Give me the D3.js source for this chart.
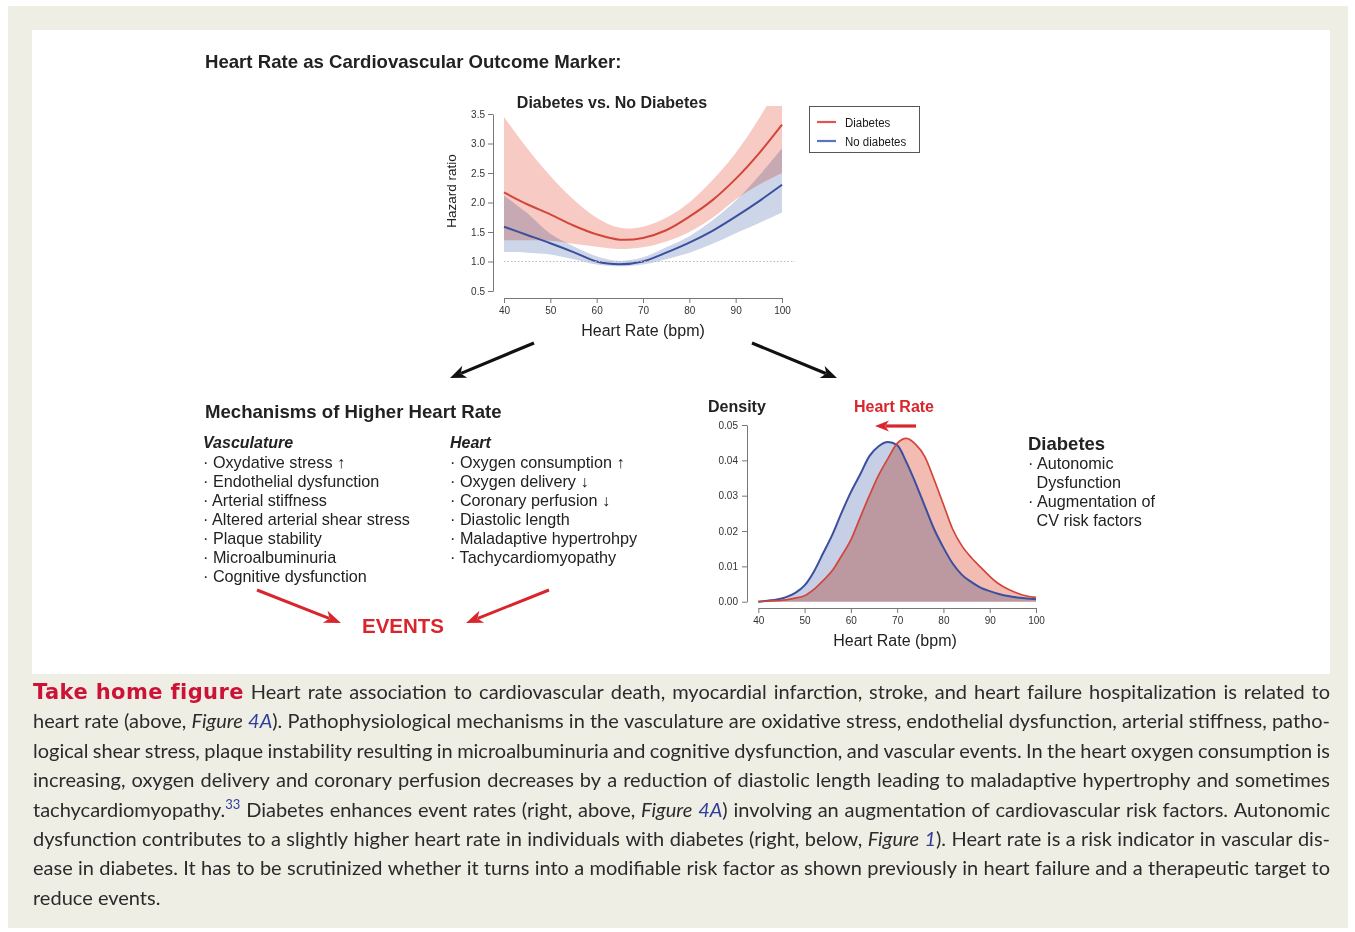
<!DOCTYPE html>
<html><head><meta charset="utf-8">
<script src="https://cdn.jsdelivr.net/npm/d3@7"></script>
<style>body{margin:0;background:#fff}svg{display:block}</style>
</head><body>
<svg id="c" width="1355" height="932"></svg>
<script>
// ---------- DATA ----------
const hrGrid      = [40,45,50,55,60,65,70,75,80,85,90,95,100];
const hrDiab      = [2.17,1.97,1.80,1.61,1.46,1.37,1.40,1.53,1.76,2.04,2.40,2.83,3.32];
const hrDiabLo    = [1.36,1.36,1.35,1.30,1.25,1.21,1.24,1.34,1.50,1.74,2.05,2.30,2.50];
const hrDiabHi    = [3.45,2.92,2.45,2.05,1.74,1.57,1.59,1.74,2.00,2.38,2.84,3.42,4.10];
const hrNoDiab    = [1.59,1.45,1.31,1.16,1.00,0.955,1.00,1.15,1.32,1.52,1.76,2.02,2.30];
const hrNoDiabLo  = [1.16,1.15,1.12,1.04,0.95,0.92,0.95,1.04,1.15,1.30,1.48,1.65,1.83];
const hrNoDiabHi  = [2.12,1.82,1.47,1.26,1.09,1.01,1.07,1.24,1.43,1.70,2.03,2.45,2.92];
const hazardTicks = [0.5,1.0,1.5,2.0,2.5,3.0,3.5];
const hrTicks     = [40,50,60,70,80,90,100];
const legendLabels = ["Diabetes","No diabetes"];

const densGrid    = [40,42,44,46,48,50,52,54,56,58,60,62,64,66,68,70,72,74,76,78,80,82,84,86,88,90,92,94,96,98,100];
const densNoDiab  = [0.0000,0.0003,0.0006,0.0013,0.0025,0.0046,0.0085,0.0137,0.0190,0.0252,0.0310,0.0360,0.0412,0.0440,0.0452,0.0443,0.0395,0.0335,0.0270,0.0205,0.0153,0.0108,0.0076,0.0056,0.0040,0.0030,0.0022,0.0016,0.0012,0.0009,0.0007];
const densDiab    = [0.0000,0.0002,0.0003,0.0005,0.0010,0.0017,0.0035,0.0060,0.0088,0.0130,0.0175,0.0238,0.0300,0.0358,0.0405,0.0448,0.0462,0.0445,0.0410,0.0345,0.0275,0.0205,0.0158,0.0125,0.0098,0.0072,0.0050,0.0035,0.0024,0.0016,0.0012];
const densTicks   = [0.00,0.01,0.02,0.03,0.04,0.05];

const vascItems  = ["Oxydative stress \u2191","Endothelial dysfunction","Arterial stiffness","Altered arterial shear stress","Plaque stability","Microalbuminuria","Cognitive dysfunction"];
const heartItems = ["Oxygen consumption \u2191","Oxygen delivery \u2193","Coronary perfusion \u2193","Diastolic length","Maladaptive hypertrohpy","Tachycardiomyopathy"];
const diabItems  = [["\u00b7 ","Autonomic"],["","Dysfunction"],["\u00b7 ","Augmentation of"],["","CV risk factors"]];

const captionLines = [
  [["Take\u00a0home\u00a0figure","lead"],[" Heart rate association to cardiovascular death, myocardial infarction, stroke, and heart failure hospitalization is related to","n"]],
  [["heart rate (above, ","n"],["Figure","i"],[" ","n"],["4A","ib"],["). Pathophysiological mechanisms in the vasculature are oxidative stress, endothelial dysfunction, arterial stiffness, patho-","n"]],
  [["logical shear stress, plaque instability resulting in microalbuminuria and cognitive dysfunction, and vascular events. In the heart oxygen consumption is","n"]],
  [["increasing, oxygen delivery and coronary perfusion decreases by a reduction of diastolic length leading to maladaptive hypertrophy and sometimes","n"]],
  [["tachycardiomyopathy.","n"],["33","sup"],[" Diabetes enhances event rates (right, above, ","n"],["Figure","i"],[" ","n"],["4A","ib"],[") involving an augmentation of cardiovascular risk factors. Autonomic","n"]],
  [["dysfunction contributes to a slightly higher heart rate in individuals with diabetes (right, below, ","n"],["Figure","i"],[" ","n"],["1","ib"],["). Heart rate is a risk indicator in vascular dis-","n"]],
  [["ease in diabetes. It has to be scrutinized whether it turns into a modifiable risk factor as shown previously in heart failure and a therapeutic target to","n"]],
  [["reduce events.","n"]]
];

// ---------- SETUP ----------
const FF = "'Liberation Sans', Arial, Helvetica, sans-serif";
const RED = "#d2463a", BLUE = "#3b4f9e";
const svg = d3.select("#c");
svg.append("rect").attr("width",1355).attr("height",932).attr("fill","#fff");
svg.append("rect").attr("x",8).attr("y",6).attr("width",1340).attr("height",922).attr("fill","#efeee5");
svg.append("rect").attr("x",32).attr("y",30).attr("width",1298).attr("height",644).attr("fill","#fff");

function txt(x,y,s,o={}){
  const t = svg.append("text").attr("x",x).attr("y",y).text(s)
    .attr("font-family",o.ff||FF).attr("font-size",o.fs||14)
    .attr("font-weight",o.fw||400).attr("fill",o.fill||"#222");
  if(o.anchor) t.attr("text-anchor",o.anchor);
  if(o.fst) t.attr("font-style",o.fst);
  if(o.ls) t.attr("letter-spacing",o.ls);
  return t;
}
function arrow(x1,y1,x2,y2,color,w,hl,hw){
  const a = Math.atan2(y2-y1,x2-x1);
  const bx = x2 - Math.cos(a)*hl*0.75, by = y2 - Math.sin(a)*hl*0.75;
  svg.append("line").attr("x1",x1).attr("y1",y1).attr("x2",bx).attr("y2",by)
    .attr("stroke",color).attr("stroke-width",w);
  const c=Math.cos(a), s=Math.sin(a);
  const p = (dx,dy)=>[x2+dx*c-dy*s, y2+dx*s+dy*c];
  const pts=[p(0,0),p(-hl,-hw/2),p(-hl*0.72,0),p(-hl,hw/2)];
  svg.append("path").attr("d","M"+pts.map(q=>q.join(",")).join("L")+"Z").attr("fill",color);
}

// ---------- TITLE ----------
txt(205,68,"Heart Rate as Cardiovascular Outcome Marker:",{fs:18.6,fw:700});

// ---------- TOP CHART ----------
const x1 = d3.scaleLinear().domain([40,100]).range([504,782]);
const y1 = d3.scaleLinear().domain([0.5,3.5]).range([291,114]);
svg.append("clipPath").attr("id","clipTop").append("rect").attr("x",500).attr("y",106).attr("width",290).attr("height",200);
const gTop = svg.append("g").attr("clip-path","url(#clipTop)").style("isolation","isolate");

svg.append("line").attr("x1",x1(40)).attr("x2",x1(100)+13).attr("y1",y1(1)).attr("y2",y1(1))
  .attr("stroke","#bbb").attr("stroke-width",1).attr("stroke-dasharray","1.5,2");

const curve = d3.curveCatmullRom.alpha(0.5);
const bandArea = (lo,hi)=>d3.area().x((d,i)=>x1(hrGrid[i])).y0((d,i)=>y1(lo[i])).y1((d,i)=>y1(hi[i])).curve(curve);
gTop.append("path").datum(hrGrid).attr("d",bandArea(hrNoDiabLo,hrNoDiabHi)).attr("fill","#cdd5e9").style("mix-blend-mode","multiply");
gTop.append("path").datum(hrGrid).attr("d",bandArea(hrDiabLo,hrDiabHi)).attr("fill","#f7cbc3").style("mix-blend-mode","multiply");
const lineFn = v=>d3.line().x((d,i)=>x1(hrGrid[i])).y((d,i)=>y1(v[i])).curve(curve);
gTop.append("path").datum(hrGrid).attr("d",lineFn(hrNoDiab)).attr("fill","none").attr("stroke",BLUE).attr("stroke-width",2);
gTop.append("path").datum(hrGrid).attr("d",lineFn(hrDiab)).attr("fill","none").attr("stroke",RED).attr("stroke-width",2);

function styleAxis(g,fs){
  g.selectAll("path,line").attr("stroke","#777");
  g.selectAll("text").attr("font-family",FF).attr("font-size",fs).attr("fill","#333");
}
const ax1 = svg.append("g").attr("transform","translate(493,0)")
  .call(d3.axisLeft(y1).tickValues(hazardTicks).tickFormat(d3.format(".1f")).tickSize(5).tickSizeOuter(0).tickPadding(3));
styleAxis(ax1,10);
const bx1 = svg.append("g").attr("transform","translate(0,298)")
  .call(d3.axisBottom(x1).tickValues(hrTicks).tickSize(5).tickSizeOuter(0).tickPadding(4));
styleAxis(bx1,10);
txt(612,108,"Diabetes vs. No Diabetes",{fs:16,fw:700,anchor:"middle"});
txt(643,336,"Heart Rate (bpm)",{fs:16,anchor:"middle"});
txt(0,0,"Hazard ratio",{fs:13.5,anchor:"middle"}).attr("transform","translate(456,191) rotate(-90)");

// legend
svg.append("rect").attr("x",809.5).attr("y",106.5).attr("width",110).attr("height",46)
  .attr("fill","#fff").attr("stroke","#555").attr("stroke-width",1);
legendLabels.forEach((lab,i)=>{
  const yy = 122 + i*19;
  svg.append("line").attr("x1",817).attr("x2",836).attr("y1",yy).attr("y2",yy)
    .attr("stroke",i===0?"#e05550":"#5577bb").attr("stroke-width",2.2);
  txt(0,0,lab,{fs:13.5,fill:"#1a1a1a"}).attr("transform",`translate(845,${yy+4.8}) scale(0.85,1)`);
});

// connecting arrows
arrow(534,343,450,378,"#111",3.2,16,13);
arrow(752,343,837,378,"#111",3.2,16,13);

// ---------- MECHANISMS ----------
txt(205,418,"Mechanisms of Higher Heart Rate",{fs:18.6,fw:700});
txt(203,448,"Vasculature",{fs:16,fw:700,fst:"italic"});
txt(450,448,"Heart",{fs:16,fw:700,fst:"italic"});
vascItems.forEach((s,i)=>txt(203,468+i*19,"\u00b7 "+s,{fs:16.2}));
heartItems.forEach((s,i)=>txt(450,468+i*19,"\u00b7 "+s,{fs:16.2}));
arrow(257,590,341,623,"#d8262c",3,17,13);
arrow(549,590,466,623,"#d8262c",3,17,13);
txt(403,633,"EVENTS",{fs:20.5,fw:700,fill:"#d8262c",anchor:"middle"});

// ---------- DENSITY CHART ----------
const x2 = d3.scaleLinear().domain([40,100]).range([758.3,1036]);
const y2 = d3.scaleLinear().domain([0,0.05]).range([601.7,425]);
const gD = svg.append("g").style("isolation","isolate");
const dArea = v=>d3.area().x((d,i)=>x2(densGrid[i])).y0(y2(0)).y1((d,i)=>y2(v[i])).curve(d3.curveMonotoneX);
const dLine = v=>d3.line().x((d,i)=>x2(densGrid[i])).y((d,i)=>y2(v[i])).curve(d3.curveMonotoneX);
gD.append("path").datum(densGrid).attr("d",dArea(densNoDiab)).attr("fill","#c6cfe5").style("mix-blend-mode","multiply");
gD.append("path").datum(densGrid).attr("d",dArea(densDiab)).attr("fill","#f3bcb3").style("mix-blend-mode","multiply");
gD.append("path").datum(densGrid).attr("d",dLine(densNoDiab)).attr("fill","none").attr("stroke",BLUE).attr("stroke-width",2);
gD.append("path").datum(densGrid).attr("d",dLine(densDiab)).attr("fill","none").attr("stroke",RED).attr("stroke-width",1.7);
const ax2 = svg.append("g").attr("transform","translate(747,0)")
  .call(d3.axisLeft(y2).tickValues(densTicks).tickFormat(d3.format(".2f")).tickSize(5).tickSizeOuter(0).tickPadding(4));
styleAxis(ax2,10);
const bx2 = svg.append("g").attr("transform","translate(0,608)")
  .call(d3.axisBottom(x2).tickValues(hrTicks).tickSize(5).tickSizeOuter(0).tickPadding(4));
styleAxis(bx2,10);
txt(708,412,"Density",{fs:16,fw:700});
txt(894,412,"Heart Rate",{fs:16,fw:700,fill:"#d8262c",anchor:"middle"});
arrow(916,426,875,426,"#d8262c",3.2,14,11);
txt(895,646,"Heart Rate (bpm)",{fs:16,anchor:"middle"});

// Diabetes box
txt(1028,450,"Diabetes",{fs:18.5,fw:700});
diabItems.forEach((d,i)=>{
  txt(d[0]? 1028:1036.5, 469+i*19, d[0]+d[1], {fs:16.2});
});

// ---------- CAPTION ----------
const CF = "Lato, 'Open Sans', sans-serif";
const capStyles = {
  n:{fill:"#2b2b2b"}, i:{fill:"#2b2b2b",fst:"italic"}, ib:{fill:"#2f3d9a",fst:"italic"},
  sup:{fill:"#2f3d9a",fs:13,dy:-8},
  lead:{fill:"#cc1237",fw:700,fs:21,ls:0.4,ff:"'DejaVu Sans', sans-serif"}
};
function toWords(segs){
  const words=[]; let cur=[];
  segs.forEach(([t,st])=>{
    t.split(" ").forEach((p,k)=>{
      if(k>0){ if(cur.length) words.push(cur); cur=[]; }
      if(p) cur.push([p,st]);
    });
  });
  if(cur.length) words.push(cur);
  return words;
}
const capX0 = 33, capX1 = 1330, capFS = 20;
captionLines.forEach((segs,li)=>{
  const yy = 699 + li*29.4;
  const words = toWords(segs);
  const nodes = words.map(w=>{
    const t = svg.append("text").attr("y",yy).attr("font-family",CF).attr("font-size",capFS).attr("fill","#2b2b2b");
    w.forEach(([p,st])=>{
      const s = capStyles[st];
      const ts = t.append("tspan").text(p).attr("fill",s.fill);
      if(s.ff) ts.attr("font-family",s.ff);
      if(s.fst) ts.attr("font-style",s.fst);
      if(s.fw) ts.attr("font-weight",s.fw);
      if(s.fs) ts.attr("font-size",s.fs);
      if(s.ls) ts.attr("letter-spacing",s.ls);
      if(s.dy) ts.attr("dy",s.dy);
    });
    return t;
  });
  const widths = nodes.map(n=>n.node().getComputedTextLength());
  const total = d3.sum(widths);
  const last = li===captionLines.length-1;
  let gap = last ? capFS*0.26 : (capX1-capX0-total)/(words.length-1);
  if(gap < 2){
    const target = capX1-capX0-2*(words.length-1);
    nodes.forEach((n,k)=>{ const w = widths[k]*target/total; n.attr("textLength",w).attr("lengthAdjust","spacingAndGlyphs"); widths[k]=w; });
    gap = 2;
  }
  let xx = capX0;
  nodes.forEach((n,k)=>{ n.attr("x",xx); xx += widths[k]+gap; });
});
</script>
</body></html>
